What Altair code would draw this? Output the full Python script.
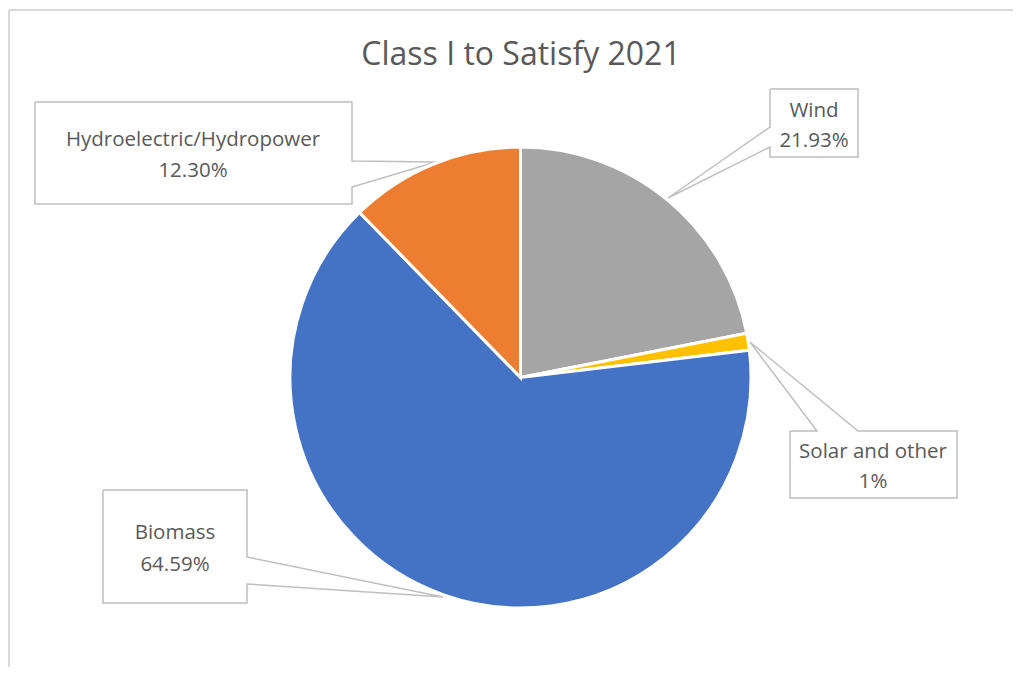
import altair as alt
import pandas as pd

# ---- data ----
categories = ["Wind", "Solar and other", "Biomass", "Hydroelectric/Hydropower"]
values = [21.93, 1.18, 64.59, 12.30]
pct_labels = ["21.93%", "1%", "64.59%", "12.30%"]
colors = ["#A5A5A5", "#FFC000", "#4472C4", "#ED7D31"]
title_text = "Class I to Satisfy 2021"

# ---- layout (page pixel coordinates) ----
W, H = 1005, 659
pie_cx, pie_cy, pie_r = 520.5, 377.5, 230.5

# label text centres: (x, y line1, y line2)
label_pos = {
    "Wind": (814, 111, 141),
    "Solar and other": (873, 452, 482),
    "Biomass": (175, 533, 565),
    "Hydroelectric/Hydropower": (193, 140, 171),
}
# callout outlines
callouts = {
    "Hydroelectric/Hydropower": [(35, 102), (352, 102), (352, 161), (436, 162), (352, 187),
                                 (352, 204), (35, 204), (35, 102)],
    "Wind": [(770, 89), (858, 89), (858, 157), (770, 157), (770, 147), (668, 198),
             (770, 127), (770, 89)],
    "Solar and other": [(790, 431), (817, 431), (750, 342), (858, 431), (957, 431),
                        (957, 498), (790, 498), (790, 431)],
    "Biomass": [(103, 490), (247, 490), (247, 557), (443, 597), (247, 584),
                (247, 603), (103, 603), (103, 490)],
}

xs = alt.Scale(domain=[8, 8 + W], range=[0, W])
ys = alt.Scale(domain=[8, 8 + H], range=[0, H])

pie_df = pd.DataFrame({"cat": categories, "val": values, "ord": list(range(len(categories)))})
pie = alt.Chart(pie_df).mark_arc(radius=pie_r, stroke="white", strokeWidth=3).encode(
    theta=alt.Theta("val:Q", stack=True),
    order=alt.Order("ord:Q"),
    color=alt.Color("cat:N", scale=alt.Scale(domain=categories, range=colors), legend=None),
    x=alt.value(pie_cx - 8),
    y=alt.value(pie_cy - 8),
)

rows = []
for c, pts in callouts.items():
    for i, (px, py) in enumerate(pts):
        rows.append({"cat": c, "seq": i, "px": px, "py": py})
co_df = pd.DataFrame(rows)
outline = alt.Chart(co_df).mark_line(color="#BFBFBF", strokeWidth=1.5, strokeJoin="miter").encode(
    x=alt.X("px:Q", scale=xs, axis=None),
    y=alt.Y("py:Q", scale=ys, axis=None),
    detail="cat:N",
    order="seq:Q",
)

trows = []
for c, p in zip(categories, pct_labels):
    lx, y1, y2 = label_pos[c]
    trows.append({"t": c, "px": lx, "py": y1})
    trows.append({"t": p, "px": lx, "py": y2})
txt_df = pd.DataFrame(trows)
labels = alt.Chart(txt_df).mark_text(font="Open Sans", fontSize=20.5, color="#595959",
                                     align="center", baseline="middle").encode(
    x=alt.X("px:Q", scale=xs, axis=None),
    y=alt.Y("py:Q", scale=ys, axis=None),
    text="t:N",
)

title_df = pd.DataFrame({"t": [title_text], "px": [521], "py": [55]})
title = alt.Chart(title_df).mark_text(font="Open Sans", fontSize=32, color="#595959",
                                      align="center", baseline="middle").encode(
    x=alt.X("px:Q", scale=xs, axis=None),
    y=alt.Y("py:Q", scale=ys, axis=None),
    text="t:N",
)

frame_df = pd.DataFrame({"cat": ["top", "top", "left", "left"], "seq": [0, 1, 0, 1],
                         "px": [8 + W, 9, 9, 9], "py": [10, 10, 10, 8 + H]})
frame = alt.Chart(frame_df).mark_line(color="#D9D9D9", strokeWidth=2).encode(
    x=alt.X("px:Q", scale=xs, axis=None),
    y=alt.Y("py:Q", scale=ys, axis=None),
    detail="cat:N",
    order="seq:Q",
)

chart = alt.layer(frame, outline, pie, labels, title).properties(
    width=W, height=H, padding=0, autosize=alt.AutoSizeParams(type="none"),
).configure_view(stroke=None)

chart.save("out.html", embed_options={"renderer": "svg", "actions": False})
